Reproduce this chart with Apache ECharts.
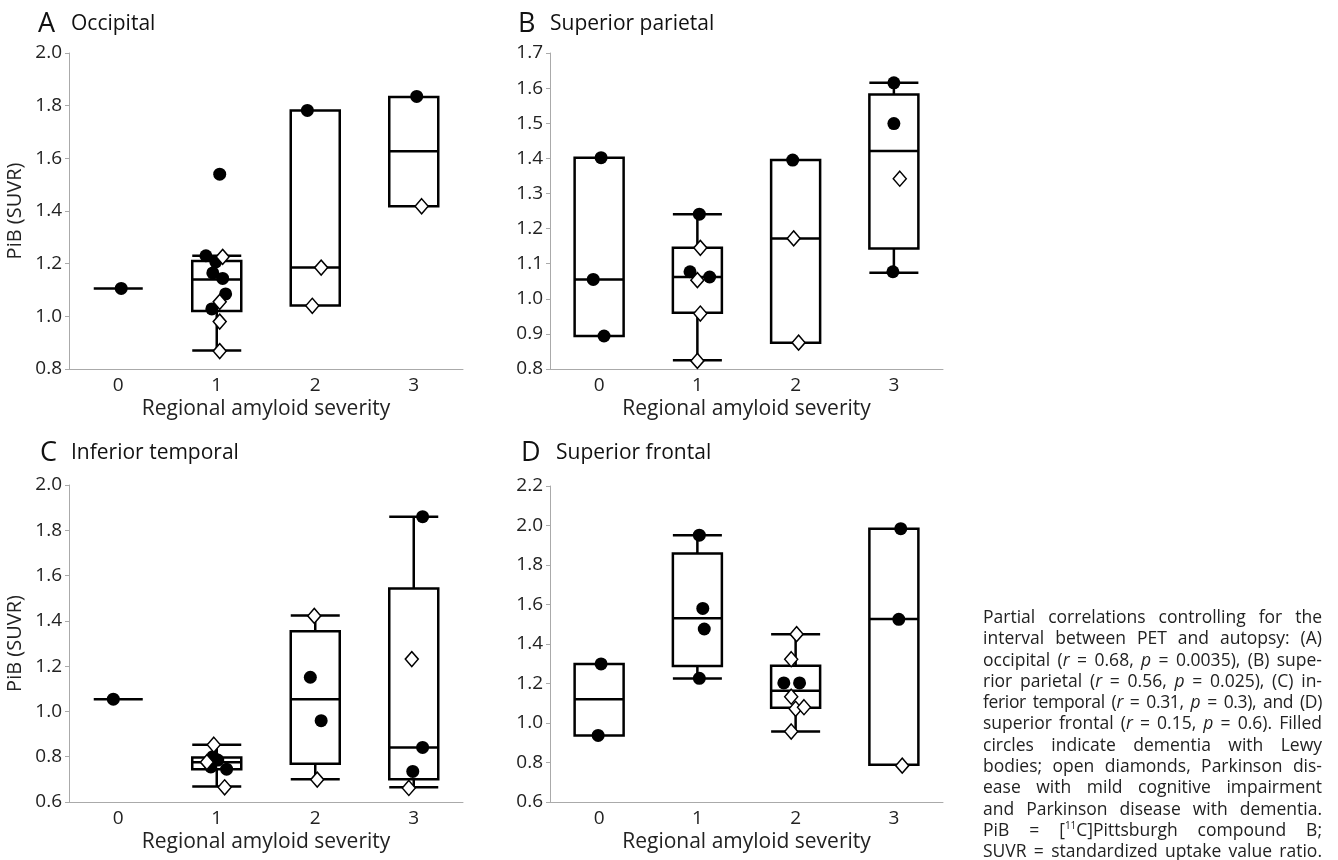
<!DOCTYPE html>
<html><head><meta charset="utf-8">
<script src="https://cdn.jsdelivr.net/npm/echarts@6/dist/echarts.min.js"></script>
<style>
html,body{margin:0;padding:0;background:#fff;}
#chart{position:absolute;left:0;top:0;width:1338px;height:860px;}
#caption{position:absolute;left:983px;top:606px;width:339px;font-family:'Open Sans';font-size:17.5px;line-height:21.3px;color:#222;}
#caption div{text-align:justify;text-align-last:justify;white-space:nowrap;height:21.3px;}
#caption div.tight{letter-spacing:-0.35px;word-spacing:-1.5px;}
#caption sup{font-size:10px;line-height:0;vertical-align:7px;}
</style></head><body>
<div id="chart"></div>
<div id="caption">
<div>Partial correlations controlling for the</div>
<div>interval between PET and autopsy: (A)</div>
<div>occipital (<i>r</i> = 0.68, <i>p</i> = 0.0035), (B) supe-</div>
<div>rior parietal (<i>r</i> = 0.56, <i>p</i> = 0.025), (C) in-</div>
<div class="tight">ferior temporal (<i>r</i> = 0.31, <i>p</i> = 0.3), and (D)</div>
<div>superior frontal (<i>r</i> = 0.15, <i>p</i> = 0.6). Filled</div>
<div>circles indicate dementia with Lewy</div>
<div>bodies; open diamonds, Parkinson dis-</div>
<div>ease with mild cognitive impairment</div>
<div>and Parkinson disease with dementia.</div>
<div>PiB = [<sup>11</sup>C]Pittsburgh compound B;</div>
<div>SUVR = standardized uptake value ratio.</div>
</div>
<script>
// ---------- data ----------
const categories = ['0', '1', '2', '3'];
const panelLetters = ['A', 'B', 'C', 'D'];
const panelTitles = ['Occipital', 'Superior parietal', 'Inferior temporal', 'Superior frontal'];
const xAxisName = 'Regional amyloid severity';
const yAxisName = 'PiB (SUVR)';
const yMin = [0.8, 0.8, 0.6, 0.6];
const yMax = [2.0, 1.7, 2.0, 2.2];
const yStep = [0.2, 0.1, 0.2, 0.2];

// box stats per category: [lower whisker, Q1, median, Q3, upper whisker]
const occipitalBox = [[1.106,1.106,1.106,1.106,1.106],[0.870,1.020,1.140,1.210,1.230],[1.041,1.041,1.185,1.782,1.782],[1.418,1.418,1.627,1.833,1.833]];
const parietalBox  = [[0.894,0.894,1.055,1.402,1.402],[0.825,0.960,1.062,1.145,1.241],[0.875,0.875,1.172,1.395,1.395],[1.074,1.143,1.421,1.582,1.615]];
const temporalBox  = [[1.054,1.054,1.054,1.054,1.054],[0.669,0.745,0.776,0.797,0.853],[0.701,0.769,1.054,1.354,1.424],[0.665,0.701,0.841,1.543,1.860]];
const frontalBox   = [[0.937,0.937,1.120,1.299,1.299],[1.225,1.289,1.530,1.858,1.951],[0.957,1.077,1.163,1.290,1.450],[0.789,0.789,1.526,1.984,1.984]];

// points: [category position incl. jitter, PiB SUVR]
const occipitalDLB = [[0.03,1.106],[1.03,1.540],[0.89,1.230],[0.99,1.207],[0.96,1.165],[1.06,1.144],[1.09,1.085],[0.95,1.028],[1.92,1.782],[3.03,1.835]];
const occipitalPD  = [[1.06,1.226],[1.03,1.055],[1.03,0.980],[1.03,0.868],[2.06,1.185],[1.97,1.040],[3.08,1.418]];
const parietalDLB  = [[0.02,1.402],[-0.06,1.055],[0.05,0.894],[1.02,1.241],[0.925,1.077],[1.125,1.062],[1.97,1.395],[3.0,1.615],[3.0,1.499],[2.99,1.077]];
const parietalPD   = [[1.03,1.145],[1.0,1.053],[1.03,0.958],[1.0,0.823],[1.98,1.172],[2.03,0.875],[3.06,1.342]];
const temporalDLB  = [[-0.05,1.054],[0.96,0.800],[0.94,0.755],[1.01,0.785],[1.10,0.745],[1.95,1.151],[2.06,0.959],[3.09,1.860],[3.09,0.841],[2.99,0.735]];
const temporalPD   = [[0.97,0.853],[0.90,0.776],[1.08,0.665],[1.99,1.422],[2.02,0.699],[2.98,1.231],[2.95,0.662]];
const frontalDLB   = [[0.02,1.299],[-0.01,0.937],[1.02,1.951],[1.055,1.580],[1.07,1.476],[1.02,1.226],[1.88,1.203],[2.04,1.203],[3.07,1.984],[3.05,1.525]];
const frontalPD    = [[2.01,1.450],[1.955,1.323],[1.955,1.133],[2.0,1.072],[2.085,1.080],[1.955,0.957],[3.085,0.784]];

const boxes = [occipitalBox, parietalBox, temporalBox, frontalBox];
const dlb = [occipitalDLB, parietalDLB, temporalDLB, frontalDLB];
const pd = [occipitalPD, parietalPD, temporalPD, frontalPD];

// ---------- layout ----------
const grids = [
  {left: 69, top: 53, width: 394, height: 316},
  {left: 550, top: 53, width: 393, height: 316},
  {left: 69, top: 485, width: 394, height: 317},
  {left: 550, top: 486, width: 393, height: 316}
];
const letterPos = [[38, 11], [518, 11], [40, 440], [521, 440]];
const titlePos = [[71, 14], [550, 14], [71, 443], [556, 443]];

const FONT = '"Open Sans"';
const axisGray = '#aaaaaa';
const textColor = '#222';

const xAxes = [], yAxes = [], series = [], graphics = [];
for (let i = 0; i < 4; i++) {
  xAxes.push({
    type: 'category', gridIndex: i, data: categories, boundaryGap: true,
    axisLine: {show: true, onZero: false, lineStyle: {color: axisGray, width: 1}},
    axisTick: {show: false},
    axisLabel: {fontSize: 19, color: textColor, fontFamily: FONT, margin: 7},
    name: xAxisName, nameLocation: 'middle', nameGap: 30,
    nameTextStyle: {fontSize: 21, color: textColor, fontFamily: FONT}
  });
  yAxes.push({
    type: 'value', gridIndex: i, min: yMin[i], max: yMax[i], interval: yStep[i],
    axisLine: {show: true, onZero: false, lineStyle: {color: axisGray, width: 1}},
    axisTick: {show: true, length: 4, lineStyle: {color: axisGray}},
    splitLine: {show: false},
    axisLabel: {fontSize: 19, color: textColor, fontFamily: FONT, margin: 7,
      formatter: v => v.toFixed(1)},
    name: (i % 2 === 0) ? yAxisName : '', nameLocation: 'middle', nameGap: 44,
    nameTextStyle: {fontSize: 20, color: textColor, fontFamily: FONT}
  });
}
for (let i = 0; i < 4; i++) {
  xAxes.push({type: 'value', gridIndex: i, min: -0.5, max: 3.5, show: false});
}
for (let i = 0; i < 4; i++) {
  series.push({
    type: 'boxplot', xAxisIndex: i, yAxisIndex: i, data: boxes[i], silent: true,
    boxWidth: [49, 49],
    itemStyle: {color: 'rgba(255,255,255,0)', borderColor: '#000', borderWidth: 2.5},
    z: 2
  });
  series.push({
    type: 'scatter', xAxisIndex: 4 + i, yAxisIndex: i, data: dlb[i], silent: true,
    symbol: 'circle', symbolSize: 13, itemStyle: {color: '#000', opacity: 1}, z: 3
  });
  series.push({
    type: 'scatter', xAxisIndex: 4 + i, yAxisIndex: i, data: pd[i], silent: true,
    symbol: 'diamond', symbolSize: [13, 15],
    itemStyle: {color: '#fff', borderColor: '#000', borderWidth: 1.5, opacity: 1}, z: 4
  });
  graphics.push({type: 'text', left: letterPos[i][0], top: letterPos[i][1],
    style: {text: panelLetters[i], font: '27px ' + FONT, fill: '#111'}});
  graphics.push({type: 'text', left: titlePos[i][0], top: titlePos[i][1],
    style: {text: panelTitles[i], font: '21px ' + FONT, fill: '#111'}});
}

const chart = echarts.init(document.getElementById('chart'), null, {renderer: 'canvas'});
chart.setOption({
  animation: false,
  backgroundColor: '#fff',
  grid: grids,
  xAxis: xAxes,
  yAxis: yAxes,
  series: series,
  graphic: graphics
});
</script>
</body></html>
